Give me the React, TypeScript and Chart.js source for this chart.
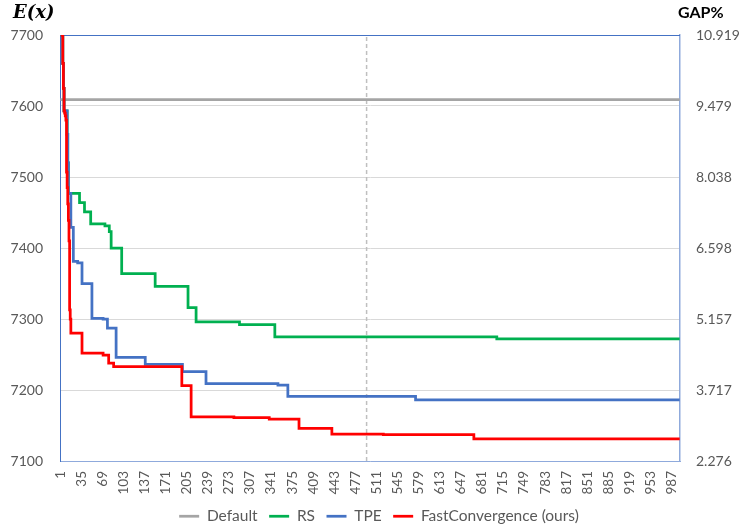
import React, { useEffect, useRef } from "react";
import { Chart, registerables } from "chart.js";

Chart.register(...registerables);

// ---- data ----
const iterationTicks = [
  1, 35, 69, 103, 137, 171, 205, 239, 273, 307, 341, 375, 409, 443, 477,
  511, 545, 579, 613, 647, 681, 715, 749, 783, 817, 851, 885, 919, 953, 987,
];
const energyTicks = [7100, 7200, 7300, 7400, 7500, 7600, 7700];
const gapTickLabels = ["2.276", "3.717", "5.157", "6.598", "8.038", "9.479", "10.919"];

const defaultIter = [1, 1000];
const defaultValue = [7609, 7609];

const rsIter = [1, 2, 3, 4, 5, 6, 7, 11, 12, 13, 14, 32, 40, 50, 73, 80, 83, 100, 154, 207, 220, 290, 347, 705, 1000];
const rsValue = [7900, 7830, 7760, 7700, 7660, 7625, 7593, 7593, 7560, 7520, 7477, 7464, 7451, 7434, 7431, 7423, 7400, 7364, 7346, 7316, 7296, 7292, 7275, 7272, 7272];

const tpeIter = [1, 2, 3, 4, 5, 6, 7, 11, 12, 13, 14, 18, 22, 29, 36, 52, 70, 77, 91, 138, 198, 236, 352, 368, 574, 1000];
const tpeValue = [7900, 7830, 7760, 7700, 7660, 7625, 7593, 7593, 7560, 7520, 7477, 7429, 7381, 7379, 7350, 7301, 7300, 7287, 7246, 7236, 7226, 7209, 7207, 7191, 7186, 7186];

const fcIter = [1, 2, 3, 4, 5, 6, 7, 8, 9, 10, 11, 12, 13, 14, 15, 16, 17, 18, 36, 70, 79, 87, 197, 212, 281, 338, 386, 439, 522, 668, 1000];
const fcValue = [7900, 7830, 7760, 7700, 7660, 7625, 7593, 7590, 7586, 7580, 7507, 7485, 7462, 7439, 7410, 7313, 7300, 7280, 7252, 7249, 7238, 7233, 7206, 7162, 7161, 7159, 7146, 7138, 7137, 7131, 7131];

const markerIter = [495, 495];
const markerValue = [7100, 7700];

const toPoints = (xs: number[], ys: number[]) => xs.map((x, i) => ({ x, y: ys[i] }));

const TEXT = "#595959";
const FONT = "Lato";

const decorPlugin = {
  id: "decor",
  afterLayout(chart: any) {
    if (chart.legend) {
      chart.legend.left += 8;
      chart.legend.right += 8;
    }
  },
  beforeDatasetsDraw(chart: any) {
    const { ctx, chartArea } = chart;
    ctx.save();
    ctx.strokeStyle = "#4472C4";
    ctx.lineWidth = 1;
    ctx.beginPath();
    ctx.moveTo(chartArea.left, Math.round(chartArea.top) + 0.5);
    ctx.lineTo(chartArea.right, Math.round(chartArea.top) + 0.5);
    ctx.stroke();
    ctx.restore();
  },
  afterDraw(chart: any) {
    const { ctx, chartArea } = chart;
    ctx.save();
    ctx.fillStyle = "#000000";
    ctx.textBaseline = "middle";
    ctx.textAlign = "left";
    ctx.font = 'italic bold 18px "DejaVu Serif"';
    ctx.fillText("E(x)", chartArea.left - 47, chartArea.top - 22);
    ctx.font = `bold 16px ${FONT}`;
    ctx.fillText("GAP%", chartArea.right - 2, chartArea.top - 22);
    ctx.restore();
  },
};

export default function App() {
  const canvasRef = useRef<HTMLCanvasElement | null>(null);

  useEffect(() => {
    if (!canvasRef.current) return;
    const lineDs = (label: string, color: string, xs: number[], ys: number[], order: number) => ({
      label,
      data: toPoints(xs, ys),
      borderColor: color,
      backgroundColor: color,
      borderWidth: 2.75,
      pointRadius: 0,
      stepped: "before" as const,
      order,
      clip: { left: 2, right: 2, top: 0, bottom: 2 },
    });

    const chart = new Chart(canvasRef.current, {
      type: "line",
      data: {
        datasets: [
          { ...lineDs("Default", "#A5A5A5", defaultIter, defaultValue, 4), stepped: false },
          lineDs("RS", "#00B050", rsIter, rsValue, 2),
          lineDs("TPE", "#4472C4", tpeIter, tpeValue, 1),
          lineDs("FastConvergence (ours)", "#FF0000", fcIter, fcValue, 0),
          {
            label: "marker",
            data: toPoints(markerIter, markerValue),
            borderColor: "#BFBFBF",
            backgroundColor: "#BFBFBF",
            borderWidth: 1.5,
            borderDash: [4, 3],
            pointRadius: 0,
            order: 5,
          },
        ],
      },
      options: {
        animation: false,
        responsive: false,
        events: [],
        layout: { padding: { left: 0, right: 0, top: 35, bottom: -3 } },
        plugins: {
          legend: {
            position: "bottom",
            labels: {
              usePointStyle: true,
              pointStyle: "line",
              pointStyleWidth: 20,
              padding: 11.5,
              color: TEXT,
              font: { family: FONT, size: 15.5 },
              filter: (item: any) => item.datasetIndex < 4,
              sort: (a: any, b: any) => a.datasetIndex - b.datasetIndex,
            },
          },
          tooltip: { enabled: false },
        },
        scales: {
          x: {
            type: "linear",
            min: 0.5,
            max: 1000.5,
            afterBuildTicks: (s: any) => {
              s.ticks = iterationTicks.map((v) => ({ value: v }));
            },
            afterFit: (s: any) => {
              s.height = 36;
            },
            ticks: {
              autoSkip: false,
              minRotation: 90,
              maxRotation: 90,
              padding: 10,
              color: TEXT,
              font: { family: FONT, size: 13.5 },
              callback: (v: any) => String(v),
            },
            grid: { display: false, drawTicks: false },
            border: { color: "#8FAADC", width: 1 },
          },
          y: {
            position: "left",
            min: 7100,
            max: 7700,
            afterBuildTicks: (s: any) => {
              s.ticks = energyTicks.map((v) => ({ value: v }));
            },
            afterFit: (s: any) => {
              s.width = 60;
            },
            ticks: {
              padding: 17,
              color: TEXT,
              font: { family: FONT, size: 14 },
              callback: (v: any) => String(v),
            },
            grid: { color: "#D9D9D9", lineWidth: 1, drawTicks: false },
            border: { color: "#4472C4", width: 1 },
          },
          y2: {
            position: "right",
            min: 7100,
            max: 7700,
            afterBuildTicks: (s: any) => {
              s.ticks = energyTicks.map((v) => ({ value: v }));
            },
            afterFit: (s: any) => {
              s.width = 62;
            },
            ticks: {
              padding: 16,
              color: TEXT,
              font: { family: FONT, size: 14 },
              callback: (v: any) => gapTickLabels[energyTicks.indexOf(Number(v))],
            },
            grid: { drawOnChartArea: false, drawTicks: false },
            border: { color: "#8FAADC", width: 1.5 },
          },
        },
      },
      plugins: [decorPlugin],
    } as any);

    return () => chart.destroy();
  }, []);

  return (
    <div style={{ position: "fixed", left: 0, top: 0, width: 742, height: 531, background: "#fff" }}>
      <canvas ref={canvasRef} width={742} height={531} style={{ display: "block" }} />
    </div>
  );
}
